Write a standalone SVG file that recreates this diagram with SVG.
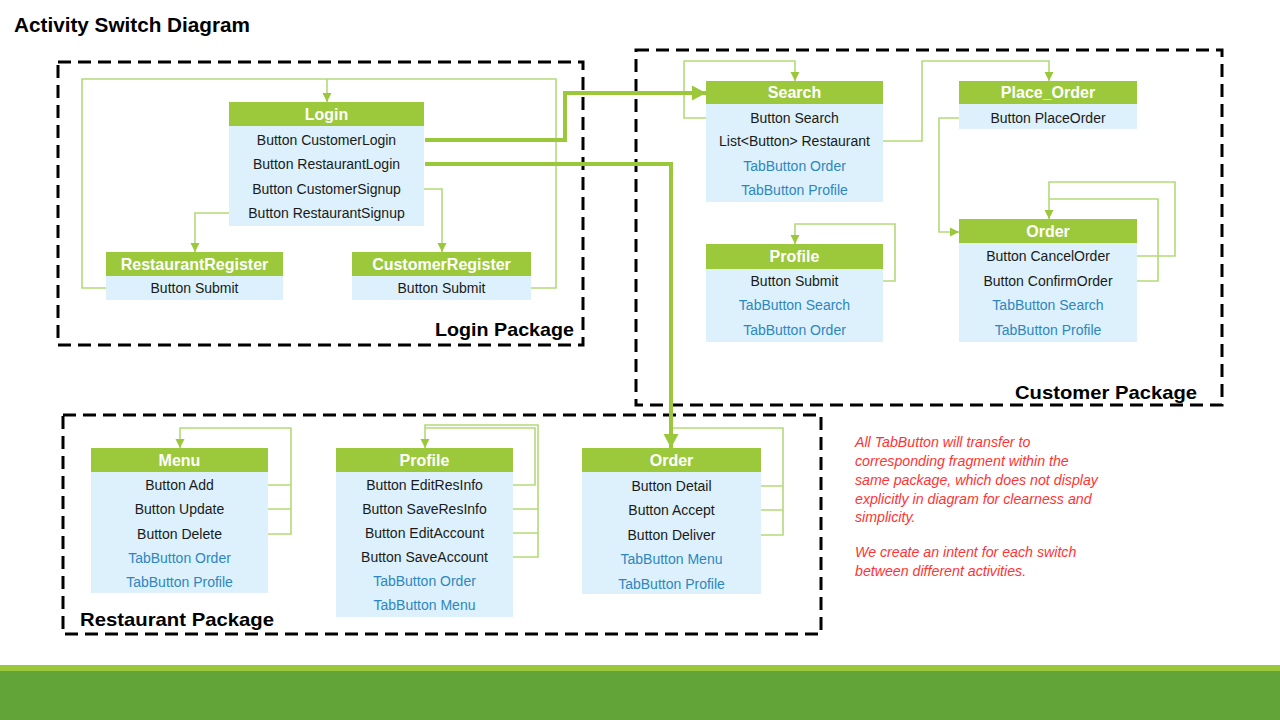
<svg xmlns="http://www.w3.org/2000/svg" width="1280" height="720" viewBox="0 0 1280 720">
<style>
.pkg{fill:none;stroke:#000;stroke-width:3;stroke-dasharray:13 7}
.hd{fill:#9BC93B}
.bd{fill:#DCF1FB}
.ht{font-family:"Liberation Sans",Arial,sans-serif;font-size:16px;font-weight:bold;fill:#fff;text-anchor:middle}
.rt{font-family:"Liberation Sans",Arial,sans-serif;font-size:14px;fill:#1a1a1a;text-anchor:middle}
.tb{fill:#2E86C1}
.pl{font-family:"Liberation Sans",Arial,sans-serif;font-size:19px;font-weight:bold;fill:#000}
.thin{fill:none;stroke:#B3DA78;stroke-width:1.6}
.thick{fill:none;stroke:#9BC83A;stroke-width:4}
.note{font-family:"Liberation Sans",Arial,sans-serif;font-size:14.2px;font-style:italic;fill:#FF3333}
</style>
<defs>
<marker id="a" markerUnits="userSpaceOnUse" markerWidth="10" markerHeight="10" refX="9" refY="5" orient="auto"><path d="M0,0.5 L9,5 L0,9.5 Z" fill="#9BC83A"/></marker>
<marker id="A" markerUnits="userSpaceOnUse" markerWidth="16" markerHeight="16" refX="14" refY="8" orient="auto"><path d="M0,0.5 L14,8 L0,15.5 Z" fill="#9BC83A"/></marker>
</defs>
<rect width="1280" height="720" fill="#fff"/>
<text x="14" y="32" font-family="Liberation Sans,Arial,sans-serif" font-size="20" font-weight="bold" textLength="236" lengthAdjust="spacingAndGlyphs">Activity Switch Diagram</text>

<g id="packages">
<rect class="pkg" x="58" y="62" width="525" height="283"/>
<rect class="pkg" x="636" y="50" width="586" height="355"/>
<rect class="pkg" x="63" y="415" width="758" height="219"/>
<text class="pl" x="435" y="336" textLength="139" lengthAdjust="spacingAndGlyphs">Login Package</text>
<text class="pl" x="1015" y="399" textLength="182" lengthAdjust="spacingAndGlyphs">Customer Package</text>
<text class="pl" x="80" y="626" textLength="194" lengthAdjust="spacingAndGlyphs">Restaurant Package</text>
</g>

<g id="connectors">
<path class="thin" d="M106,288 H82 V79 H556 V288 H531"/>
<path class="thin" d="M327,79 V102" marker-end="url(#a)"/>
<path class="thin" d="M229,213 H195 V252" marker-end="url(#a)"/>
<path class="thin" d="M424,189 H442 V252" marker-end="url(#a)"/>
<path class="thin" d="M706,118 H684 V61 H795 V81" marker-end="url(#a)"/>
<path class="thin" d="M883,141 H922 V61 H1049 V81" marker-end="url(#a)"/>
<path class="thin" d="M959,118 H939 V232 H959" marker-end="url(#a)"/>
<path class="thin" d="M1137,256 H1175 V182 H1049 V219" marker-end="url(#a)"/>
<path class="thin" d="M1137,281 H1158 V199 H1049"/>
<path class="thin" d="M883,281 H895 V224 H795 V244" marker-end="url(#a)"/>
<path class="thin" d="M268,485 H291 M268,509 H291 M268,534 H291 V428 H180 V448" marker-end="url(#a)"/>
<path class="thin" d="M513,485 H535 V428 H425"/>
<path class="thin" d="M513,509 H538 M513,533 H538 M513,557 H538 V425 H425 V448" marker-end="url(#a)"/>
<path class="thin" d="M761,486 H783 M761,510 H783 M761,535 H783 V428 H671"/>
<path class="thick" d="M425,140 H565 V93 H706" marker-end="url(#A)"/>
<path class="thick" d="M425,164 H671 V448" marker-end="url(#A)"/>
</g>

<g id="login">
<rect class="hd" x="229" y="102" width="195" height="24"/>
<rect class="bd" x="229" y="126" width="195" height="100"/>
<text class="ht" x="326.5" y="120">Login</text>
<text class="rt" x="326.5" y="145">Button CustomerLogin</text>
<text class="rt" x="326.5" y="169">Button RestaurantLogin</text>
<text class="rt" x="326.5" y="194">Button CustomerSignup</text>
<text class="rt" x="326.5" y="218">Button RestaurantSignup</text>
</g>

<g id="restaurantRegister">
<rect class="hd" x="106" y="252" width="177" height="24"/>
<rect class="bd" x="106" y="276" width="177" height="24"/>
<text class="ht" x="194.5" y="270">RestaurantRegister</text>
<text class="rt" x="194.5" y="293">Button Submit</text>
</g>

<g id="customerRegister">
<rect class="hd" x="352" y="252" width="179" height="24"/>
<rect class="bd" x="352" y="276" width="179" height="24"/>
<text class="ht" x="441.5" y="270">CustomerRegister</text>
<text class="rt" x="441.5" y="293">Button Submit</text>
</g>

<g id="search">
<rect class="hd" x="706" y="81" width="177" height="23"/>
<rect class="bd" x="706" y="104" width="177" height="98"/>
<text class="ht" x="794.5" y="98">Search</text>
<text class="rt" x="794.5" y="123">Button Search</text>
<text class="rt" x="794.5" y="146">List&lt;Button&gt; Restaurant</text>
<text class="rt tb" x="794.5" y="171">TabButton Order</text>
<text class="rt tb" x="794.5" y="195">TabButton Profile</text>
</g>

<g id="placeOrder">
<rect class="hd" x="959" y="81" width="178" height="23"/>
<rect class="bd" x="959" y="104" width="178" height="25"/>
<text class="ht" x="1048" y="98">Place_Order</text>
<text class="rt" x="1048" y="123">Button PlaceOrder</text>
</g>

<g id="customerProfile">
<rect class="hd" x="706" y="244" width="177" height="25"/>
<rect class="bd" x="706" y="269" width="177" height="73"/>
<text class="ht" x="794.5" y="262">Profile</text>
<text class="rt" x="794.5" y="286">Button Submit</text>
<text class="rt tb" x="794.5" y="310">TabButton Search</text>
<text class="rt tb" x="794.5" y="335">TabButton Order</text>
</g>

<g id="customerOrder">
<rect class="hd" x="959" y="219" width="178" height="24"/>
<rect class="bd" x="959" y="243" width="178" height="99"/>
<text class="ht" x="1048" y="237">Order</text>
<text class="rt" x="1048" y="261">Button CancelOrder</text>
<text class="rt" x="1048" y="286">Button ConfirmOrder</text>
<text class="rt tb" x="1048" y="310">TabButton Search</text>
<text class="rt tb" x="1048" y="335">TabButton Profile</text>
</g>

<g id="menu">
<rect class="hd" x="91" y="448" width="177" height="24"/>
<rect class="bd" x="91" y="472" width="177" height="121"/>
<text class="ht" x="179.5" y="466">Menu</text>
<text class="rt" x="179.5" y="490">Button Add</text>
<text class="rt" x="179.5" y="514">Button Update</text>
<text class="rt" x="179.5" y="539">Button Delete</text>
<text class="rt tb" x="179.5" y="563">TabButton Order</text>
<text class="rt tb" x="179.5" y="587">TabButton Profile</text>
</g>

<g id="restaurantProfile">
<rect class="hd" x="336" y="448" width="177" height="24"/>
<rect class="bd" x="336" y="472" width="177" height="145"/>
<text class="ht" x="424.5" y="466">Profile</text>
<text class="rt" x="424.5" y="490">Button EditResInfo</text>
<text class="rt" x="424.5" y="514">Button SaveResInfo</text>
<text class="rt" x="424.5" y="538">Button EditAccount</text>
<text class="rt" x="424.5" y="562">Button SaveAccount</text>
<text class="rt tb" x="424.5" y="586">TabButton Order</text>
<text class="rt tb" x="424.5" y="610">TabButton Menu</text>
</g>

<g id="restaurantOrder">
<rect class="hd" x="582" y="448" width="179" height="24"/>
<rect class="bd" x="582" y="472" width="179" height="122"/>
<text class="ht" x="671.5" y="466">Order</text>
<text class="rt" x="671.5" y="491">Button Detail</text>
<text class="rt" x="671.5" y="515">Button Accept</text>
<text class="rt" x="671.5" y="540">Button Deliver</text>
<text class="rt tb" x="671.5" y="564">TabButton Menu</text>
<text class="rt tb" x="671.5" y="589">TabButton Profile</text>
</g>

<g id="note">
<text class="note" x="855" y="447">All TabButton will transfer to</text>
<text class="note" x="855" y="466">corresponding fragment within the</text>
<text class="note" x="855" y="485">same package, which does not display</text>
<text class="note" x="855" y="504">explicitly in diagram for clearness and</text>
<text class="note" x="855" y="522">simplicity.</text>
<text class="note" x="855" y="557">We create an intent for each switch</text>
<text class="note" x="855" y="576">between different activities.</text>
</g>

<g id="footer">
<rect x="0" y="665" width="1280" height="6" fill="#9BC83A"/>
<rect x="0" y="671" width="1280" height="49" fill="#63A439"/>
</g>
</svg>
